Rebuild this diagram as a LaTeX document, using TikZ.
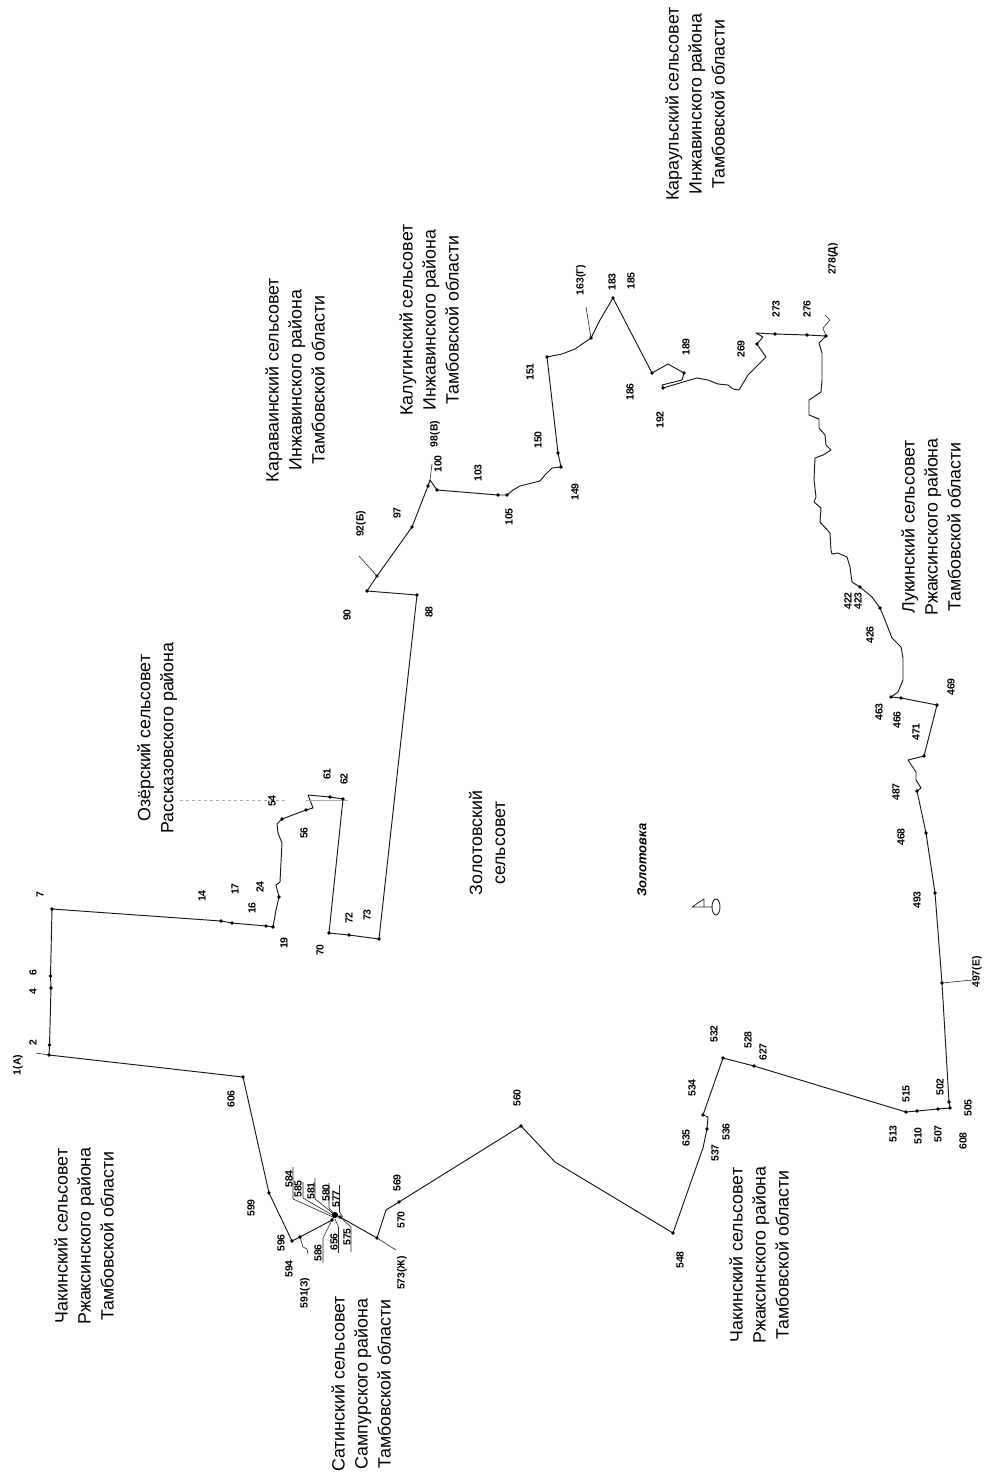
\documentclass[tikz,border=0pt]{standalone}
\usepackage{fontspec}
\setmainfont{Liberation Sans}
\tikzset{
  lbl/.style={rotate=90,inner sep=0pt,font=\fontsize{10.4}{11}\selectfont\bfseries},
  ttl/.style={rotate=90,inner sep=0pt,align=center,font=\fontsize{17.8}{23}\selectfont},
  bnd/.style={line width=0.95pt,line join=round,black!90},
  thn/.style={line width=0.6pt,line join=round,black!85}
}
\begin{document}
\begin{tikzpicture}[x=1pt,y=-1pt]
\useasboundingbox (0,0) rectangle (984,1481);
\fill[white] (0,0) rectangle (984,1481);
% vertices
\foreach \n/\x/\y in {
 a/49/1055,b/49.5/1045,c/51/988,d/50.5/976,e/52/909,f/221/921,g/232/923,h/266/926,i/273/927,j/279/897,
 k/282/819,l/306/810,m/330/797,n/343/799,o/329/933,p/349/935,q/379/939,r/417/595,s/367/591,t/377/576,
 u/412/527,v/428/486,w/437/490,x/498/495,y/507/495,z/561/467,aa/558/453,ab/547/357,ac/591/338,ad/613/298,
 ae/652/373,af/684/373,ag/663/388,ah/757/344,ai/775/334,aj/807/335,ak/826/336,al/860/587,am/880/608,
 an/891/697,ao/901/698,ap/937/705,aq/924/756,ar/917/791,as/926/833,at/935/893,au/942/983,av/949/1102,aw/950/1108,
 ax/938/1109,ay/917/1111,az/906/1112,ba/754/1066,bb/723/1058,bc/703/1115,bd/707/1129,be/673/1233,bf/521/1126,
 bg/399/1202,bh/377/1238,bi/340/1217,bj/335/1215,bk/332/1220,bl/300/1237,bm/292/1241,bn/269/1193,bo/243/1077}
 {\coordinate (\n) at (\x,\y);}
\foreach \n/\x/\y in {ta/36/1053,tb/359/556,tc/432/464,td/586/307,te/825/315,tf/972/980,tg/396/1250,th/308/1254,
 l1/293/1199,l2/303/1198,l3/315/1199,l4/329/1208,l5/339.5/1212,l6/323/1238,l7/338.5/1227,l8/351/1227,
 cc/343/1217,cd/335/1219}
 {\coordinate (\n) at (\x,\y);}
% boundary
\draw[bnd] (a)--(b)--(c)--(d)--(e)--(f)--(g)--(h)--(i)--(276,910)--(j)--(276,885)--(280,882)--(282,843)--(278,833)--(277,824)--(k)--(l)--(313,808)--(310,800)--(308,795)--(m)--(n)--(o)--(p)--(q)--(r)--(s)--(t)--(u)--(v)--(430,480)--(w)--(x)--(y)
 --(513,490)--(520,486)--(532,483)--(540,481)--(545,475)--(552,468)--(z)--(aa)--(ab)--(562,354)--(575,349)--(ac)--(600,320)--(ad)--(ae)--(668,364)--(af)--(682,380)--(662,385)--(ag)--(690,380)--(697,378)--(708,380)--(718,384)--(728,385)--(733,389)--(739,390)--(748,375)--(760,363)--(766,357)--(759,347)--(ah)--(763,337)--(756,333)--(ai)--(aj)--(ak)
 --(819,343)--(822,353)--(822,380)--(821,392)--(809,400)--(809,415)--(819,419)--(819,428)--(825,435)--(826,445)--(831,450)--(823,455)--(815,458)--(814,480)--(816,497)--(814,502)--(821,508)--(820,522)--(830,533)--(831,550)--(832,554)--(838,553)--(847,557)--(850,567)--(852,582)--(al)--(872,597)--(am)--(885,620)--(892,638)--(901,647)--(903,658)--(903,680)--(898,692)--(an)--(ao)--(ap)--(aq)--(908,760)--(916,772)--(916,780)--(921,788)--(ar)--(as)--(at)--(au)--(av)--(aw)--(ax)--(ay)--(az)--(ba)--(bb)--(bc)--(708,1117)--(bd)--(703,1148)--(692,1179)--(be)--(555,1162)--(bf)--(bg)--(386,1210)--(bh)--(bi)--(bj)--(bk)--(bl)--(bm)--(bn)--(bo)--(a);
% tails
\draw[thn] (a)--(ta);
\draw[thn] (t)--(tb);
\draw[thn] (v)--(430,480)--(tc);
\draw[thn] (ac)--(td);
\draw[thn] (ak)--(823,328)--(830,320)--(te);
\draw[thn] (au)--(tf);
\draw[thn] (bh)--(tg);
\draw[thn] (bl)--(303,1247)--(307,1249)--(th);
% leaders with underlines
\draw[thn] (333,1217)--(l1)--(293,1167);
\draw[thn] (334,1216)--(l2)--(303,1182);
\draw[thn] (335,1215)--(l3)--(315,1178);
\draw[thn] (bj)--(l4)--(329,1183);
\draw[thn] (cc)--(l5)--(339.5,1185);
\draw[thn] (bk)--(l6)--(323,1263);
\draw[thn] (cd)--(338.5,1227)--(338.5,1253);
\draw[thn] (bi)--(l8)--(351,1252);
% dotted gray leader
\draw[gray!65,line width=0.7pt,dash pattern=on 3pt off 3pt] (180,800)--(287,800);
\draw[gray!65,line width=0.7pt] (306,800)--(348,800);
% dots
\foreach \n in {a,b,c,d,e,f,g,h,i,j,k,l,m,n,o,p,q,r,s,t,u,v,w,x,y,z,aa,ab,ac,ad,ae,af,ag,ah,ai,aj,ak,al,am,an,ao,ap,aq,ar,as,at,au,av,aw,ax,ay,az,ba,bb,bc,bd,be,bf,bg,bh,bi,bj,bk,bl,bm,bn,bo}
 {\fill (\n) circle (1.9);}
\fill (bj) circle (3);
% well symbol
\coordinate (wa) at (692,907); \coordinate (wb) at (704,899); \coordinate (wc) at (704,907); \coordinate (wd) at (716,907);
\draw[thn,line width=0.8pt] (wa)--(wb)--(wc) (wa)--(712,907);
\draw[thn,line width=0.9pt] (wd) ellipse (4 and 8);
% point labels
\foreach \n/\x/\y/\t in {
 n1/18/1065/1(А),n2/33/1043/2,n3/33/992/4,n4/33/973/6,n5/40/895/7,n6/202/896/14,n7/235/889/17,n8/252/908/16,n9/260/887/24,n10/284/943/19,
 n11/231/1099/606,n12/251/1208/599,n13/281/1243/596,n14/289/1269/594,n15/305/1293/591(З),n16/289/1179/584,n17/298/1189/585,n18/311/1191/581,n19/326/1193/580,n20/336/1199/577,
 n21/318/1253/586,n22/334/1242/656,n23/347/1237/575,n24/397/1183/569,n25/401/1220/570,n26/402/1273/573(Ж),
 n27/272/801/54,n28/327/774/61,n29/344/779/62,n30/304/833/56,n31/320/950/70,n32/349/918/72,n33/367/915/73,n34/429/612/88,n35/347/615/90,n36/361/524/92(Б),
 n37/397/513/97,n38/435/434/98(В),n39/438/464/100,n40/478/473/103,n41/509/517/105,n42/575/492/149,n43/538/440/150,n44/530/372/151,n45/581/280/163(Г),n46/612/282/183,n47/631/281/185,n48/630/392/186,n49/686/347/189,n50/660/420/192,
 n51/741/349/269,n52/776/309/273,n53/807/309/276,n54/833/259/278(Д),n55/848/601/422,n56/858/601/423,n57/870/635/426,n58/879/712/463,n59/897/720/466,n60/916/732/471,n61/951/687/469,n62/896/792/487,n63/901/837/468,n64/917/900/493,
 n65/977/972/497(Е),n66/906/1094/515,n67/893/1134/513,n68/918/1136/510,n69/938/1134/507,n70/940/1087/502,n71/968/1108/505,n72/963/1141/608,n73/692/1088/534,n74/686/1138/635,n75/726/1132/536,n76/715/1153/537,n77/763/1052/627,n78/748/1040/528,n79/714/1034/532,n80/517/1098/560,n81/680/1260/548}
 {\node[lbl] (\n) at (\x,\y) {\t};}
% titles
\node[ttl] (t1) at (84,1236) {Чакинский сельсовет\\Ржаксинского района\\Тамбовской области};
\node[ttl] (t2) at (361,1384) {Сатинский сельсовет\\Сампурского района\\Тамбовской области};
\node[ttl] (t3) at (759,1255) {Чакинский сельсовет\\Ржаксинского района\\Тамбовской области};
\node[ttl] (t4) at (157,738) {Озёрский сельсовет\\Рассказовского района};
\node[ttl] (t5) at (295,380) {Караваинский сельсовет\\Инжавинского района\\Тамбовской области};
\node[ttl] (t6) at (429,320) {Калугинский сельсовет\\Инжавинского района\\Тамбовской области};
\node[ttl] (t7) at (695,104) {Караульский сельсовет\\Инжавинского района\\Тамбовской области};
\node[ttl] (t8) at (931,527) {Лукинский сельсовет\\Ржаксинского района\\Тамбовской области};
\node[ttl] (t9) at (487,843) {Золотовский\\сельсовет};
\node[rotate=90,inner sep=0pt,font=\fontsize{13}{14}\selectfont\bfseries\itshape] (t10) at (642,860) {Золотовка};
\end{tikzpicture}
\end{document}
